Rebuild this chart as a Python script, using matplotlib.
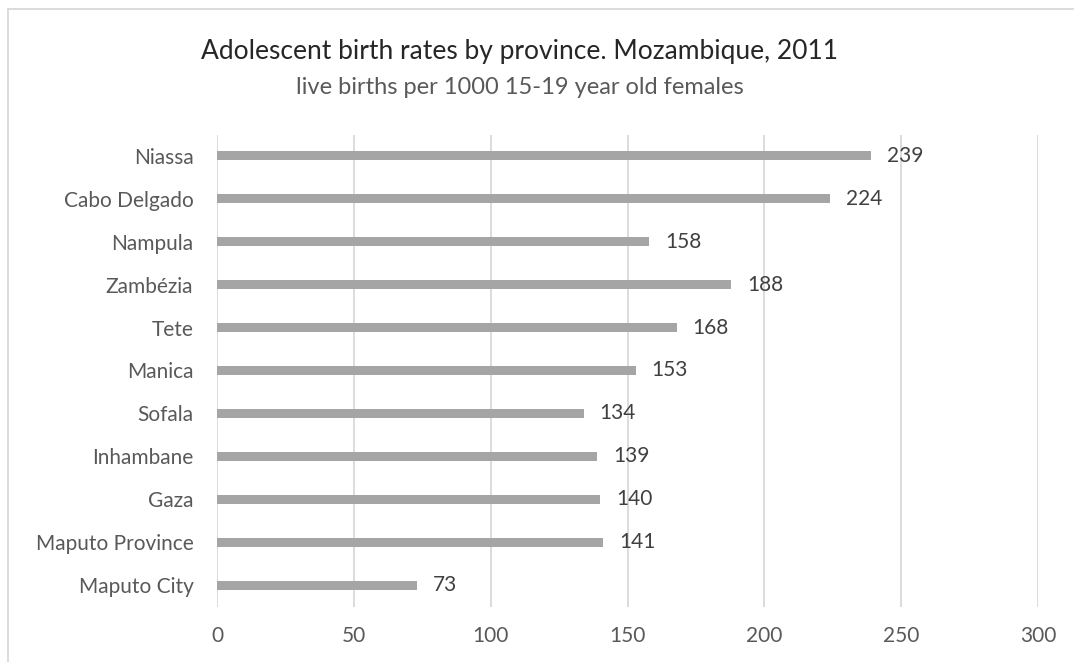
import matplotlib
matplotlib.use('Agg')
import matplotlib.pyplot as plt
from matplotlib.lines import Line2D

# 数据
provinces = ['Niassa', 'Cabo Delgado', 'Nampula', 'Zambézia', 'Tete', 'Manica',
             'Sofala', 'Inhambane', 'Gaza', 'Maputo Province', 'Maputo City']
rates = [239, 224, 158, 188, 168, 153, 134, 139, 140, 141, 73]
xticks = [0, 50, 100, 150, 200, 250, 300]

plt.rcParams['font.family'] = ['Lato', 'DejaVu Sans']

W, H = 1074, 662
fig = plt.figure(figsize=(W / 100, H / 100), dpi=100)
ax = fig.add_axes([217 / W, 1 - 606.5 / H, (1038 - 217) / W, (606.5 - 134.5) / H])

y = list(range(len(provinces)))
ax.barh(y, rates, height=0.21, color='#A5A5A5', zorder=3)
for yi, v in zip(y, rates):
    ax.annotate(str(v), (v, yi), xytext=(16, 0), textcoords='offset pixels',
                ha='left', va='center', fontsize=15, color='#404040', zorder=4)

ax.set_xlim(0, 300)
ax.set_ylim(len(provinces) - 0.5, -0.5)
ax.set_yticks(y)
ax.set_yticklabels(provinces, fontsize=15, color='#595959')
ax.set_xticks(xticks)
ax.set_xticklabels([str(t) for t in xticks], fontsize=15, color='#595959')
ax.tick_params(axis='both', length=0)
ax.tick_params(axis='y', pad=17)
ax.tick_params(axis='x', pad=14)
ax.grid(axis='x', color='#D9D9D9', linewidth=1.3, zorder=0)
for s in ax.spines.values():
    s.set_visible(False)

fig.text(0.484, 1 - 52 / H, 'Adolescent birth rates by province. Mozambique, 2011',
         ha='center', va='center', fontsize=19, color='#262626')
fig.text(0.484, 1 - 88 / H, 'live births per 1000 15-19 year old females',
         ha='center', va='center', fontsize=17, color='#595959')

# 外框（只露出左、上两边）
fig.add_artist(Line2D([8 / W, 8 / W], [0, 1 - 9 / H], transform=fig.transFigure,
                      color='#D9D9D9', linewidth=1.3))
fig.add_artist(Line2D([8 / W, 1], [1 - 9 / H, 1 - 9 / H], transform=fig.transFigure,
                      color='#D9D9D9', linewidth=1.3))

fig.savefig('out.png', dpi=100)
